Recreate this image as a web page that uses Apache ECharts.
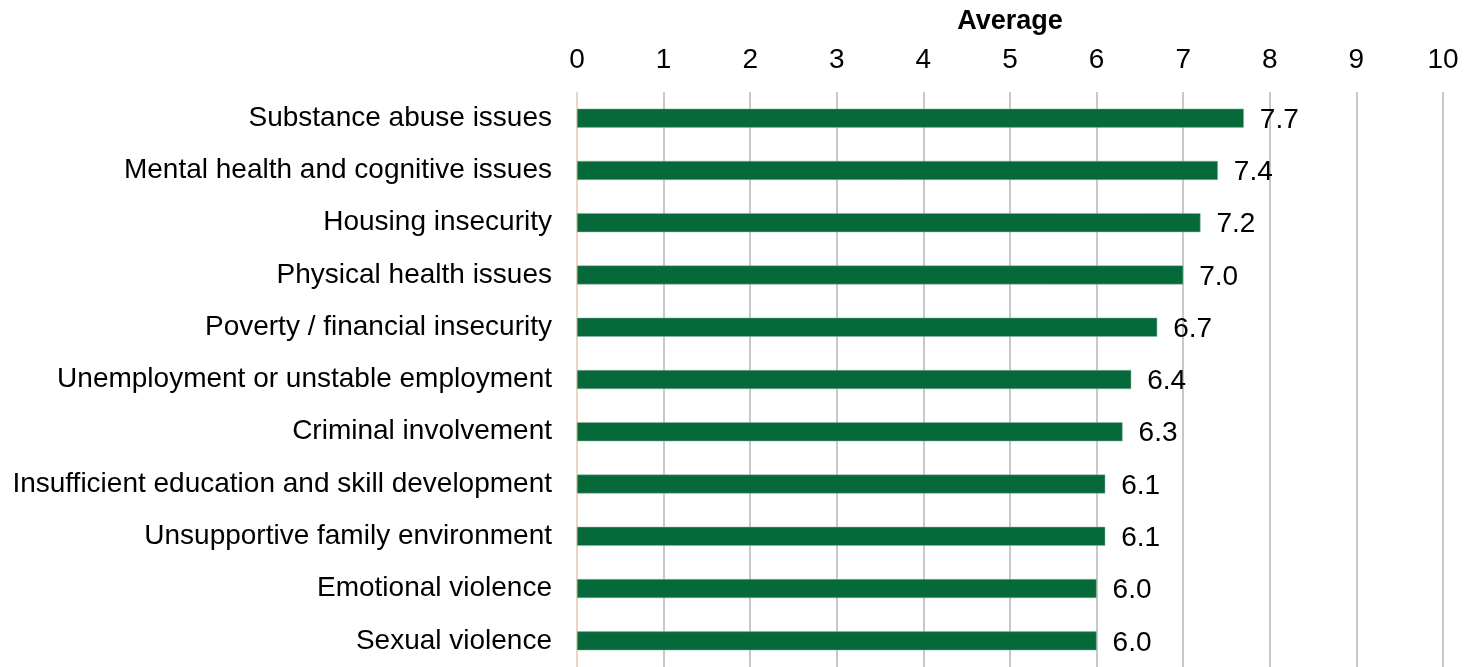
<!DOCTYPE html>
<html><head><meta charset="utf-8">
<script src="https://cdn.jsdelivr.net/npm/echarts@6/dist/echarts.min.js"></script>
<style>html,body{margin:0;padding:0;background:#fff}#c{width:1466px;height:667px}</style>
</head><body><div id="c"></div>
<script>
const categories = [
  'Substance abuse issues',
  'Mental health and cognitive issues',
  'Housing insecurity',
  'Physical health issues',
  'Poverty / financial insecurity',
  'Unemployment or unstable employment',
  'Criminal involvement',
  'Insufficient education and skill development',
  'Unsupportive family environment',
  'Emotional violence',
  'Sexual violence'
];
const averages = [7.7, 7.4, 7.2, 7.0, 6.7, 6.4, 6.3, 6.1, 6.1, 6.0, 6.0];
const axisName = 'Average';

const chart = echarts.init(document.getElementById('c'));
const F = 'Liberation Sans, Arial, sans-serif';
chart.setOption({
  animation: false,
  grid: { left: 577, right: 23, top: 92, height: 579, containLabel: false },
  xAxis: {
    type: 'value', position: 'top', min: 0, max: 10, interval: 1,
    name: axisName, nameLocation: 'middle', nameGap: 57,
    nameTextStyle: { fontFamily: F, fontSize: 27, fontWeight: 'bold', color: '#000' },
    axisLabel: { fontFamily: F, fontSize: 28, color: '#000', margin: 18 },
    axisLine: { show: false }, axisTick: { show: false },
    splitLine: { show: true, lineStyle: { color: '#c8c8c8', width: 2 } }
  },
  yAxis: {
    type: 'category', inverse: true, data: categories,
    axisLine: { show: true, lineStyle: { color: '#f5dcc4', width: 1.5 } },
    axisTick: { show: false },
    axisLabel: { fontFamily: F, fontSize: 28, color: '#000', margin: 25, padding: [2, 0, 0, 0] }
  },
  series: [{
    type: 'bar', data: averages, barWidth: 19,
    itemStyle: { color: '#05693A', borderColor: '#8fb9a0', borderWidth: 0.5 },
    label: { show: true, position: 'right', distance: 16, offset: [0, 2], fontFamily: F, fontSize: 28, color: '#000',
      formatter: p => p.value.toFixed(1) }
  }]
});
</script></body></html>
